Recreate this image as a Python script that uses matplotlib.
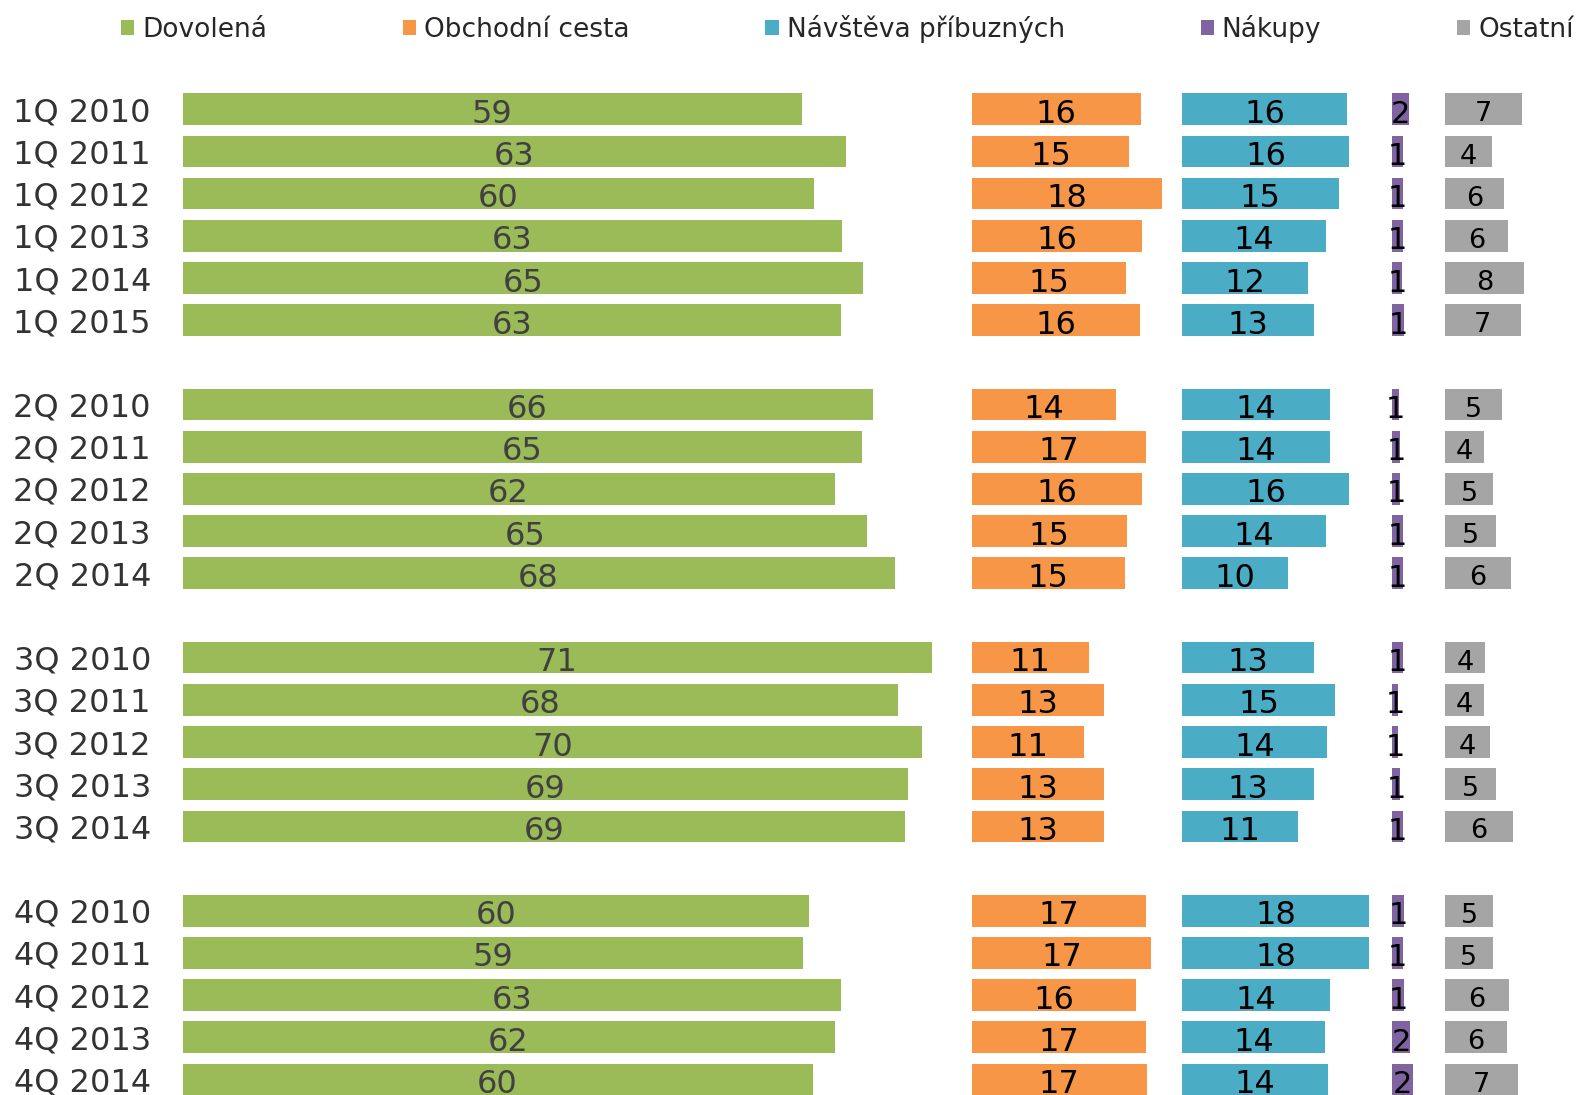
import matplotlib
matplotlib.use('Agg')
import matplotlib.pyplot as plt
from matplotlib.patches import Patch

# Row labels, grouped by quarter
groups = [
    ['1Q 2010', '1Q 2011', '1Q 2012', '1Q 2013', '1Q 2014', '1Q 2015'],
    ['2Q 2010', '2Q 2011', '2Q 2012', '2Q 2013', '2Q 2014'],
    ['3Q 2010', '3Q 2011', '3Q 2012', '3Q 2013', '3Q 2014'],
    ['4Q 2010', '4Q 2011', '4Q 2012', '4Q 2013', '4Q 2014'],
]

series_names = ['Dovolená', 'Obchodní cesta', 'Návštěva příbuzných', 'Nákupy', 'Ostatní']

dovolena = [58.9, 63.1, 60.0, 62.7, 64.7, 62.6,
            65.6, 64.6, 62.0, 65.1, 67.7,
            71.2, 68.0, 70.3, 69.0, 68.7,
            59.6, 59.0, 62.6, 62.0, 59.9]
obchodni = [16.1, 15.0, 18.1, 16.2, 14.7, 16.0,
            13.7, 16.6, 16.2, 14.8, 14.6,
            11.2, 12.6, 10.7, 12.6, 12.6,
            16.6, 17.1, 15.6, 16.6, 16.7]
navsteva = [15.7, 15.9, 14.9, 13.7, 12.0, 12.6,
            14.1, 14.1, 15.9, 13.7, 10.1,
            12.6, 14.6, 13.8, 12.6, 11.0,
            17.8, 17.8, 14.1, 13.6, 13.9]
nakupy = [1.6, 1.05, 1.0, 1.0, 0.9, 1.1,
          0.6, 0.7, 0.75, 1.0, 1.0,
          1.0, 0.55, 0.55, 0.75, 1.05,
          1.15, 1.0, 1.15, 1.65, 1.95]
ostatni = [7.3, 4.45, 5.6, 6.0, 7.55, 7.2,
           5.4, 3.7, 4.6, 4.9, 6.3,
           3.8, 3.7, 4.3, 4.9, 6.45,
           4.6, 4.55, 6.1, 5.9, 6.95]

colors = ['#9BBB59', '#F79646', '#4BACC6', '#8064A2', '#A5A5A5']
offsets = [0, 75, 95, 115, 120]   # where each column of bars starts
label_colors = ['#404040', 'black', 'black', 'black', 'black']
label_sizes = [23, 23, 23, 22, 19.5]

# y positions: one blank row between quarters
labels = []
ypos = []
row = 0
for g in groups:
    for lab in g:
        labels.append(lab)
        ypos.append(row)
        row += 1
    row += 1

W, H = 1580, 1095
px_unit = 10.52
x0_px = 182.5
fig = plt.figure(figsize=(W / 100, H / 100), dpi=100)
ax = fig.add_axes([x0_px / W, 0, 1 - x0_px / W, 1])

all_series = [dovolena, obchodni, navsteva, nakupy, ostatni]
for vals, off, c, lc, ls in zip(all_series, offsets, colors, label_colors, label_sizes):
    ax.barh(ypos, vals, left=off, height=0.75, color=c, edgecolor='none')
    for y, v in zip(ypos, vals):
        ax.text(off + v / 2, y + 0.12, str(int(v + 0.5)), ha='center', va='center',
                fontsize=ls, color=lc)

row_px = 42.18
first_px = 109.3
ax.set_ylim((H - first_px) / row_px, -first_px / row_px)
ax.set_xlim(0, (W - x0_px) / px_unit)

ax.set_yticks(ypos)
ax.set_yticklabels(labels, fontsize=23, color='#333333')
ax.tick_params(axis='y', length=0, pad=22.7)
ax.set_xticks([])
for s in ax.spines.values():
    s.set_visible(False)

handles = [Patch(facecolor=c, edgecolor='none') for c in colors]
fig.legend(handles, series_names, loc='center left',
           bbox_to_anchor=(121 / W, 1 - 29 / H), ncol=5, frameon=False,
           fontsize=19, handlelength=0.5, handleheight=0.5,
           handletextpad=0.3, columnspacing=5.15, borderpad=0, borderaxespad=0,
           labelcolor='#262626')

fig.savefig('out.png', dpi=100)
